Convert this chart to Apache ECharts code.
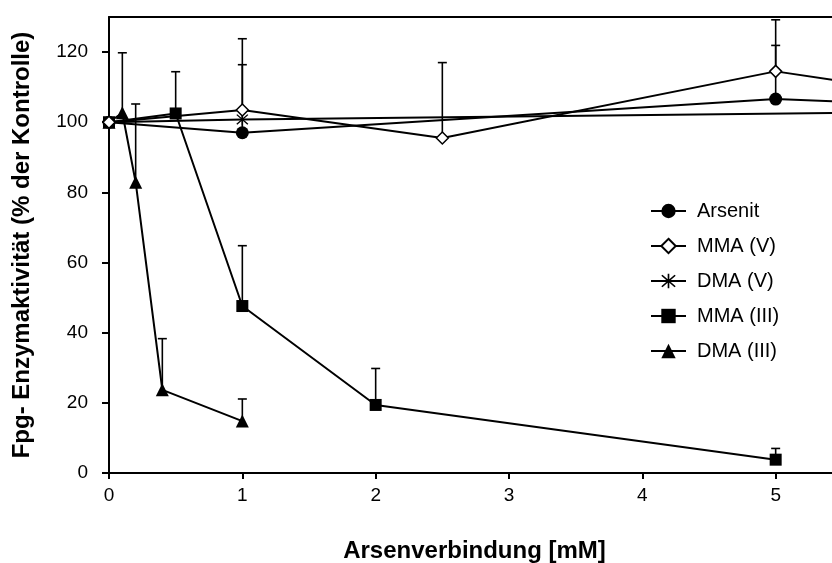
<!DOCTYPE html>
<html>
<head>
<meta charset="utf-8">
<script src="https://cdn.jsdelivr.net/npm/echarts@6/dist/echarts.min.js"></script>
<style>html,body{margin:0;padding:0;background:#fff;}#c{width:832px;height:563px;}</style>
</head>
<body>
<div id="c"></div>
<script>
// ---- data ----
const xTicks = [0, 1, 2, 3, 4, 5];
const yTicks = [0, 20, 40, 60, 80, 100, 120];

const arsenitX = [0, 1, 5, 6];
const arsenitY = [100, 97, 106.6, 105.2];
const arsenitErr = [null, 116.4, 121.9, null];

const mmaVX = [0, 1, 2.5, 5, 6];
const mmaVY = [100, 103.5, 95.5, 114.5, 108.9];
const mmaVErr = [null, 123.8, 117, 129.2, null];

const dmaVX = [0, 1, 6];
const dmaVY = [100, 100.8, 102.9];

const mmaIIIX = [0, 0.5, 1, 2, 5];
const mmaIIIY = [100, 102.5, 47.6, 19.4, 3.8];
const mmaIIIErr = [null, 114.4, 64.8, 29.8, 7.0];

const dmaIIIX = [0, 0.1, 0.2, 0.4, 1];
const dmaIIIY = [100, 102.7, 82.9, 23.7, 14.8];
const dmaIIIErr = [null, 119.8, 105.2, 38.3, 21.1];

const seriesNames = ['Arsenit', 'MMA (V)', 'DMA (V)', 'MMA (III)', 'DMA (III)'];

// ---- build ----
const pairs = (xs, ys) => xs.map((x, i) => [x, ys[i]]);
const errTriples = (xs, ys, es) => xs.map((x, i) => es[i] == null ? null : [x, ys[i], es[i]]).filter(d => d);

const asterisk = 'path://M9,0L11,0L11,20L9,20Z M1.3,2.7L2.7,1.3L18.7,17.3L17.3,18.7Z M17.3,1.3L18.7,2.7L2.7,18.7L1.3,17.3Z';

function errRender(params, api) {
  const x = api.value(0), y = api.value(1), t = api.value(2);
  const p0 = api.coord([x, y]);
  const p1 = api.coord([x, t]);
  return {
    type: 'group',
    children: [
      { type: 'line', shape: { x1: p0[0], y1: p0[1], x2: p1[0], y2: p1[1] }, style: { stroke: '#000', lineWidth: 1.6 } },
      { type: 'line', shape: { x1: p1[0] - 4.5, y1: p1[1], x2: p1[0] + 4.5, y2: p1[1] }, style: { stroke: '#000', lineWidth: 1.6 } }
    ]
  };
}

function errSeries(data) {
  return { type: 'custom', renderItem: errRender, data: data, z: 1, silent: true, clip: true,
           encode: { x: 0, y: [1, 2] } };
}

function lineSeries(name, data, symbol, size, fill) {
  return {
    name: name, type: 'line', data: data, symbol: symbol, symbolSize: size, showAllSymbol: true,
    clip: true, z: 3,
    lineStyle: { color: '#000', width: 2 },
    itemStyle: { color: fill, borderColor: '#000', borderWidth: fill === '#fff' ? 1.5 : 0 }
  };
}

const font = 'Arial, "Liberation Sans", sans-serif';
const X_MAX = 5.4225; // plot is cut off at the right edge of the picture

const chart = echarts.init(document.getElementById('c'), null, { renderer: 'canvas' });
chart.setOption({
  backgroundColor: '#fff',
  animation: false,
  grid: { left: 109, top: 17, right: 0, height: 456, show: false, containLabel: false, outerBoundsMode: 'none' },
  xAxis: [{
    type: 'value', min: 0, max: X_MAX, interval: 1,
    name: 'Arsenverbindung [mM]', nameLocation: 'middle', nameGap: 66,
    nameTextStyle: { fontFamily: font, fontSize: 24, fontWeight: 'bold', color: '#000', padding: [0, 0, 0, 8] },
    axisLine: { show: true, onZero: false, lineStyle: { color: '#000', width: 2 } },
    axisTick: { show: true, inside: false, length: 6, lineStyle: { color: '#000', width: 2 } },
    axisLabel: { fontFamily: font, fontSize: 19, color: '#000', margin: 13, showMaxLabel: false,
                 formatter: v => xTicks.includes(v) ? String(v) : '' },
    splitLine: { show: false }
  }, {
    type: 'value', min: 0, max: X_MAX, position: 'top',
    axisLine: { show: true, onZero: false, lineStyle: { color: '#000', width: 2 } },
    axisTick: { show: false }, axisLabel: { show: false }, splitLine: { show: false }
  }],
  yAxis: {
    type: 'value', min: 0, max: 130, interval: 20,
    name: 'Fpg- Enzymaktivität (% der Kontrolle)', nameLocation: 'middle', nameGap: 75,
    nameTextStyle: { fontFamily: font, fontSize: 24, fontWeight: 'bold', color: '#000' },
    axisLine: { show: true, onZero: false, lineStyle: { color: '#000', width: 2 } },
    axisTick: { show: true, inside: false, length: 7, lineStyle: { color: '#000', width: 2 } },
    axisLabel: { fontFamily: font, fontSize: 19, color: '#000', margin: 21, showMaxLabel: false,
                 formatter: v => yTicks.includes(v) ? String(v) : '' },
    splitLine: { show: false }
  },
  legend: {
    data: seriesNames, orient: 'vertical', left: 645, top: 196,
    itemWidth: 35, itemHeight: 18, itemGap: 15,
    textStyle: { fontFamily: font, fontSize: 20, color: '#000', padding: [0, 0, 0, 6] },
    inactiveColor: '#000'
  },
  series: [
    errSeries(errTriples(arsenitX, arsenitY, arsenitErr)),
    errSeries(errTriples(mmaVX, mmaVY, mmaVErr)),
    errSeries(errTriples(mmaIIIX, mmaIIIY, mmaIIIErr)),
    errSeries(errTriples(dmaIIIX, dmaIIIY, dmaIIIErr)),
    lineSeries('DMA (V)', pairs(dmaVX, dmaVY), asterisk, 12, '#000'),
    lineSeries('Arsenit', pairs(arsenitX, arsenitY), 'circle', 13, '#000'),
    lineSeries('MMA (III)', pairs(mmaIIIX, mmaIIIY), 'rect', 12, '#000'),
    lineSeries('DMA (III)', pairs(dmaIIIX, dmaIIIY), 'triangle', 13, '#000'),
    lineSeries('MMA (V)', pairs(mmaVX, mmaVY), 'diamond', 12, '#fff')
  ]
});
</script>
</body>
</html>
